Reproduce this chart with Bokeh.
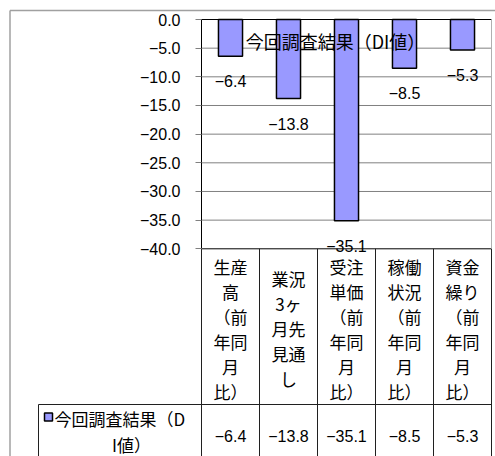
from bokeh.plotting import figure
from bokeh.models import Range1d, LinearAxis, FixedTicker, CustomJSTickFormatter
from bokeh.core.properties import value
from bokeh.embed import file_html
from bokeh.resources import INLINE

# ---- data -------------------------------------------------------------
categories = [
    "生産\n高\n（前\n年同\n月\n比）",
    "業況\n3ヶ\n月先\n見通\nし",
    "受注\n単価\n（前\n年同\n月\n比）",
    "稼働\n状況\n（前\n年同\n月\n比）",
    "資金\n繰り\n（前\n年同\n月\n比）",
]
di_values = [-6.4, -13.8, -35.1, -8.5, -5.3]
series_title = "今回調査結果（DI値）"
legend_lines = ["今回調査結果（D", "I値）"]
y_ticks = [0, -5, -10, -15, -20, -25, -30, -35, -40]

# ---- geometry (pixels on the page) -----------------------------------
W, H = 495, 456
PLOT_L, PLOT_R, PLOT_T, PLOT_B = 201, 491, 19, 248.3
ROW_Y = 404          # line between category row and value row
LEG_L = 38           # left edge of the value row
COL = (PLOT_R - PLOT_L) / len(categories)
Y_MIN, Y_MAX = min(y_ticks), max(y_ticks)
PPU = (PLOT_B - PLOT_T) / (Y_MAX - Y_MIN)   # pixels per unit

CJK = value("Noto Sans CJK JP")
NUM = value("Liberation Sans")
NUM_SIZE = "16px"
BAR_FILL = "#9999ff"
GRID = "#808080"

xs = list(range(len(categories)))

p = figure(
    width=W, height=H,
    x_range=Range1d(-0.5 - PLOT_L / COL, -0.5 + (W - PLOT_L) / COL),
    y_range=Range1d(Y_MAX - (H - PLOT_T) / PPU, Y_MAX + PLOT_T / PPU),
    x_axis_type=None, y_axis_type=None,
    output_backend="svg", toolbar_location=None,
    min_border=0, outline_line_color=None,
    background_fill_color="white", border_fill_color="white",
)
p.extra_x_ranges = {"px": Range1d(0, W)}
p.extra_y_ranges = {"px": Range1d(H, 0)}
px = dict(x_range_name="px", y_range_name="px")

# outer chart border
p.segment(x0=[9.5, 9.5], y0=[10, 10], x1=[W, 9.5], y1=[10, H],
          line_color="#a0a0a0", line_width=1.5, **px)

# horizontal gridlines
inner = [t for t in y_ticks if Y_MIN < t < Y_MAX]
p.segment(x0=-0.5, x1=len(categories) - 0.5, y0=inner, y1=inner,
          line_color=GRID, line_width=1)

# bars
p.vbar(x=xs, top=di_values, bottom=0, width=0.415,
       fill_color=BAR_FILL, line_color="black", line_width=1.5)

# plot frame
p.segment(x0=[-0.5, -0.5], x1=[len(categories) - 0.5] * 2,
          y0=[Y_MAX, Y_MIN], y1=[Y_MAX, Y_MIN], line_color="black", line_width=1)
p.segment(x0=[len(categories) - 0.5], x1=[len(categories) - 0.5],
          y0=[Y_MAX], y1=[Y_MIN], line_color="#b0b0b0", line_width=1)

# data table grid
col_edges = [PLOT_L + i * COL for i in range(len(categories) + 1)]
p.segment(x0=col_edges, x1=col_edges, y0=PLOT_B, y1=H,
          line_color="#202020", line_width=1, **px)
p.segment(x0=[LEG_L, LEG_L], x1=[PLOT_R, LEG_L], y0=[ROW_Y, ROW_Y], y1=[ROW_Y, H],
          line_color="#202020", line_width=1, **px)

# y axis sitting at the left edge of the plot area
yaxis = LinearAxis(
    fixed_location=-0.5,
    ticker=FixedTicker(ticks=y_ticks),
    bounds=(Y_MIN, Y_MAX),
    formatter=CustomJSTickFormatter(code="return tick.toFixed(1).replace('-', '−')"),
    axis_line_color="black", axis_line_width=1,
    major_tick_out=6, major_tick_in=0, minor_tick_out=0, minor_tick_in=0,
    major_tick_line_color=GRID,
    major_label_standoff=15,
    major_label_text_font="Liberation Sans",
    major_label_text_font_size=NUM_SIZE,
    major_label_text_color="black",
)
p.add_layout(yaxis, "left")

def fmt(v):
    return f"{v:.1f}".replace("-", "−")

# value labels below each bar
p.text(x=xs, y=[v - 25 / PPU for v in di_values], text=[fmt(v) for v in di_values],
       text_align="center", text_baseline="middle",
       text_font=NUM, text_font_size=NUM_SIZE, text_color="black")

# series title
p.text(x=[335], y=[40], text=[series_title], text_align="center",
       text_baseline="middle", text_font=CJK, text_font_size="18px",
       text_color="black", **px)

# category labels, one text line at a time
LINE_H = 25
cat_mid = 328
for i, cat in enumerate(categories):
    lines = cat.split("\n")
    n = len(lines)
    ys = [cat_mid + (k - (n - 1) / 2) * LINE_H for k in range(n)]
    p.text(x=[i] * n, y=ys, text=lines, text_align="center", text_baseline="middle",
           text_font=CJK, text_font_size="17px", text_color="black",
           y_range_name="px")

# value row
p.text(x=xs, y=[435] * len(xs), text=[fmt(v) for v in di_values],
       text_align="center", text_baseline="middle",
       text_font=NUM, text_font_size=NUM_SIZE, text_color="black",
       y_range_name="px")

# legend key and series name in the value row
p.quad(left=[44], right=[52], top=[412.5], bottom=[420.5],
       fill_color=BAR_FILL, line_color="black", line_width=1.5, **px)
p.text(x=[54], y=[417.5], text=[legend_lines[0]], text_align="left",
       text_baseline="middle", text_font=CJK, text_font_size="17px",
       text_color="black", **px)
p.text(x=[131], y=[444], text=[legend_lines[1]], text_align="center",
       text_baseline="middle", text_font=CJK, text_font_size="17px",
       text_color="black", **px)

open("out.html", "w").write(file_html(p, INLINE))
